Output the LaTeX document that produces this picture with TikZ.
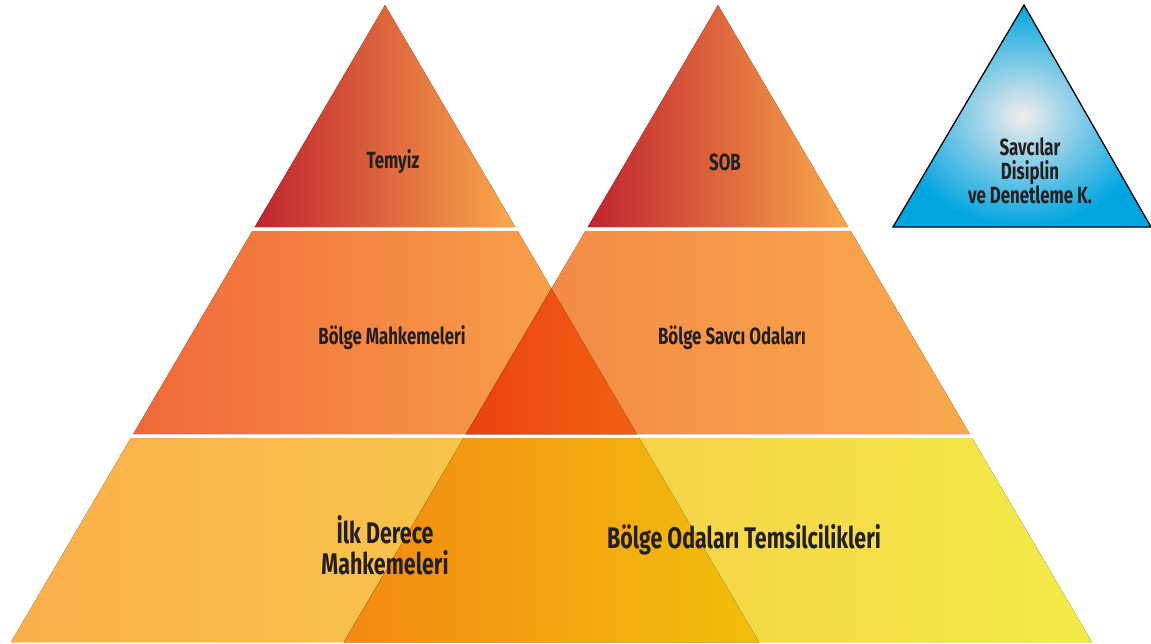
\documentclass[tikz,border=0pt]{standalone}
\usepackage{fontspec}
\setmainfont{Fira Sans}[FakeStretch=0.72]
\usepackage{tikz}

\definecolor{ink}{HTML}{231F20}
\definecolor{topA}{HTML}{C0232F}
\definecolor{topB}{HTML}{F9A94B}
\definecolor{midLA}{HTML}{F0683A}
\definecolor{midLB}{HTML}{F9AA4C}
\definecolor{midRA}{HTML}{F28446}
\definecolor{midRB}{HTML}{F9AA4C}
\definecolor{botLA}{HTML}{FAAE4B}
\definecolor{botLB}{HTML}{F7D44A}
\definecolor{botRA}{HTML}{F8C449}
\definecolor{botRB}{HTML}{F2EB47}
\definecolor{ovMA}{HTML}{EB4210}
\definecolor{ovMB}{HTML}{F16012}
\definecolor{ovBA}{HTML}{F38913}
\definecolor{ovBB}{HTML}{F2BF0C}
\definecolor{skyin}{HTML}{F2ECEC}
\definecolor{skyout}{HTML}{00A5E0}

\begin{document}
\begin{tikzpicture}[x=1pt,y=-1pt,
  lbl/.style={font=\bfseries\fontsize{23.4}{24}\selectfont, text=ink, align=center, inner sep=0pt},
  biglbl/.style={lbl, font=\bfseries\fontsize{29.8}{31}\selectfont}]
\useasboundingbox (0,0) rectangle (1151,643);

% Left pyramid
\fill[left color=topA, right color=topB] (385,5) -- (515.3,227) -- (254.7,227) -- cycle;
\fill[left color=midLA, right color=midLB] (252.3,231) -- (517.7,231) -- (636.8,434) -- (133.2,434) -- cycle;
\fill[left color=botLA, right color=botLB] (130.8,438) -- (639.2,438) -- (758.9,642) -- (11.1,642) -- cycle;

% Right pyramid
\fill[left color=topA, right color=topB] (718,5) -- (848.3,227) -- (587.7,227) -- cycle;
\fill[left color=midRA, right color=midRB] (585.3,231) -- (850.7,231) -- (969.8,434) -- (466.2,434) -- cycle;
\fill[left color=botRA, right color=botRB] (463.8,438) -- (972.2,438) -- (1091.9,642) -- (344.1,642) -- cycle;

% Overlaps
\fill[left color=ovMA, right color=ovMB] (551.5,288.6) -- (636.8,434) -- (466.2,434) -- cycle;
\fill[left color=ovBA, right color=ovBB] (463.8,438) -- (639.2,438) -- (758.9,642) -- (344.1,642) -- cycle;

% Blue triangle
\shade[draw=black, line width=1.3pt, inner color=skyin, outer color=skyout] (1024,5) -- (1151,227) -- (893,227) -- cycle;

% Labels
\node[lbl] (temyiz) at (393,162) {Temyiz};
\node[lbl] (sob) at (725,162) {SOB};
\node[lbl] (bmah) at (392,338) {Bölge Mahkemeleri};
\node[lbl] (bsav) at (732,338) {Bölge Savcı Odaları};
\node[biglbl] (ilk) at (385,545) {İlk Derece\\Mahkemeleri};
\node[biglbl] (temsil) at (744,540) {Bölge Odaları Temsilcilikleri};
\node[lbl] (sdk) at (1030,171) {Savcılar\\Disiplin\\ve Denetleme K.};
\end{tikzpicture}
\end{document}
